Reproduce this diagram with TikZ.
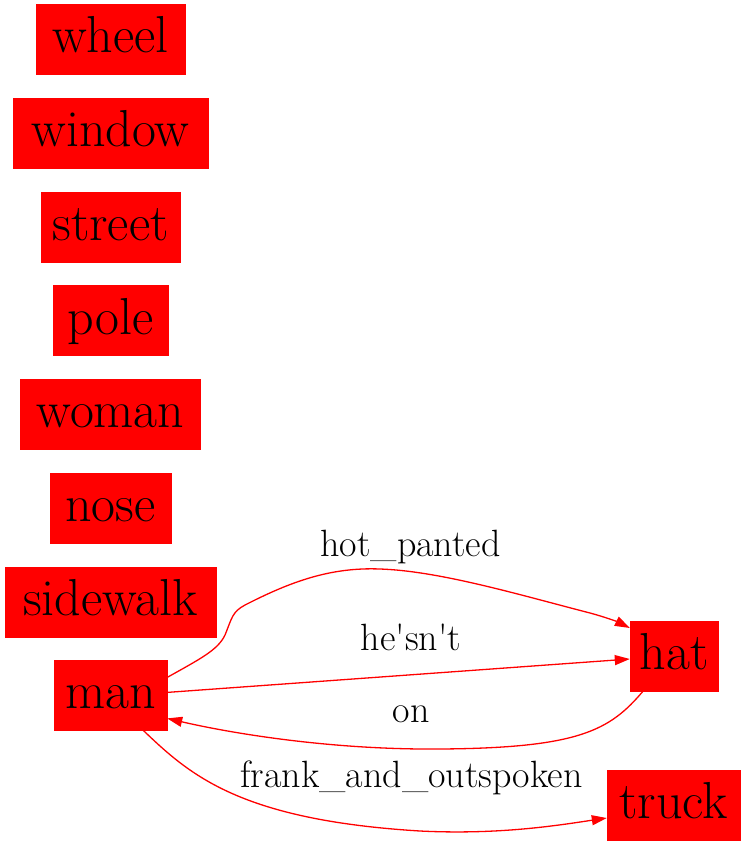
\documentclass[tikz,border=0pt]{standalone}
\usepackage{fontspec}
\usetikzlibrary{arrows.meta, positioning}
\tikzset{
  objbox/.style={rectangle, draw=red, fill=red, minimum height=70pt,
    inner xsep=4pt, inner ysep=0pt, text height=36pt, text depth=9pt,
    font=\fontsize{52}{60}\selectfont},
  rel/.style={-{Triangle[length=15pt,width=10pt]}, red, line width=1.3pt},
  rellabel/.style={anchor=base, inner sep=0pt, font=\fontsize{38}{46}\selectfont}
}

\begin{document}
\begin{tikzpicture}[x=1pt, y=-1pt, node distance=23.3pt]
  \useasboundingbox (0,0) rectangle (745,845);

  \node[objbox, minimum width=149pt] (wheel) at (110.5,39.5) {wheel};
  \node[objbox, minimum width=195pt, below=of wheel] (window) {window};
  \node[objbox, minimum width=139pt, below=of window] (street) {street};
  \node[objbox, minimum width=115pt, below=of street] (pole) {pole};
  \node[objbox, minimum width=180pt, below=of pole] (woman) {woman};
  \node[objbox, minimum width=121pt, below=of woman] (nose) {nose};
  \node[objbox, minimum width=211pt, below=of nose] (sidewalk) {sidewalk};
  \node[objbox, minimum width=113pt, below=of sidewalk] (man) {man};
  \node[objbox, minimum width=88pt] (hat) at (674,656) {hat};
  \node[objbox, minimum width=133pt] (truck) at (673.5,805) {truck};

  \node[rellabel] (lhotpanted) at (410.5,556) {hot\_panted};
  \node[rellabel] (lhesnt) at (411,650) {he\textquotesingle sn\textquotesingle t};
  \node[rellabel] (lon) at (411,722) {on};
  \node[rellabel] (lfrank) at (411.5,787) {frank\_and\_outspoken};

  \draw[rel] ([yshift=18pt]man.east) .. controls (200,659) and (218,650) .. (225,635)
    .. controls (232,618) and (232,612) .. (245,605)
    .. controls (290,582) and (330,567) .. (380,569)
    .. controls (440,571) and (520,595) .. (590,613)
    .. controls (605,617) and (618,622) .. ([yshift=28pt]hat.west);
  \draw[rel] ([yshift=3pt]man.east) -- ([yshift=-3pt]hat.west);
  \draw[rel] ([xshift=-31pt]hat.south) .. controls (610,730) and (580,748) .. (440,749)
    .. controls (330,750) and (230,733) .. ([yshift=-23pt]man.east);
  \draw[rel] ([xshift=33pt]man.south) .. controls (190,775) and (240,820) .. (420,831)
    .. controls (500,835) and (560,825) .. ([yshift=-13pt]truck.west);
\end{tikzpicture}
\end{document}
